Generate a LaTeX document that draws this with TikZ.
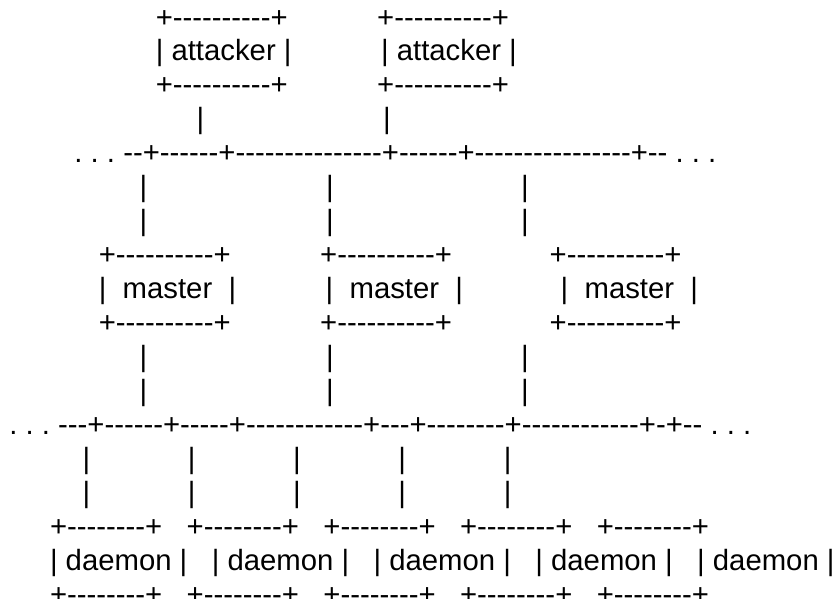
\documentclass[tikz,border=0pt]{standalone}
\usepackage{fontspec}
\newfontfamily\asc[Ligatures=TeXOff]{Liberation Sans}
\newcommand\sk[1]{\hskip#1\fontdimen2\font\relax}
\begin{document}
\begin{tikzpicture}[x=1pt,y=1pt,
  txt/.style={inner sep=0pt,outer sep=0pt,anchor=base west,
    font=\asc\fontsize{29.3}{34}\selectfont}]
\useasboundingbox (0,0) rectangle (835,-598);
\fill[white] (0,0) rectangle (835,-598);
\def\ox{9.3}
\def\bA{27}
\def\dl{33.95}
\node[txt] (l1)  at (\ox,{-(\bA+0*\dl)}) {\sk{18}+----------+\sk{11}+----------+};
\node[txt] (l2)  at (\ox,{-(\bA+1*\dl)}) {\sk{18}|\sk1attacker\sk1|\sk{11}|\sk1attacker\sk1|};
\node[txt] (l3)  at (\ox,{-(\bA+2*\dl)}) {\sk{18}+----------+\sk{11}+----------+};
\node[txt] (l4)  at (\ox,{-(\bA+3*\dl)}) {\sk{23}|\sk{22}|};
\node[txt] (l5)  at (\ox,{-(\bA+4*\dl)}) {\sk8.\sk1.\sk1.\sk1--+------+---------------+------+----------------+--\sk1.\sk1.\sk1.};
\node[txt] (l6)  at (\ox,{-(\bA+5*\dl)}) {\sk{16}|\sk{22}|\sk{23}|};
\node[txt] (l7)  at (\ox,{-(\bA+6*\dl)}) {\sk{16}|\sk{22}|\sk{23}|};
\node[txt] (l8)  at (\ox,{-(\bA+7*\dl)}) {\sk{11}+----------+\sk{11}+----------+\sk{12}+----------+};
\node[txt] (l9)  at (\ox,{-(\bA+8*\dl)}) {\sk{11}|\sk2master\sk2|\sk{11}|\sk2master\sk2|\sk{12}|\sk2master\sk2|};
\node[txt] (l10) at (\ox,{-(\bA+9*\dl)}) {\sk{11}+----------+\sk{11}+----------+\sk{12}+----------+};
\node[txt] (l11) at (\ox,{-(\bA+10*\dl)}) {\sk{16}|\sk{22}|\sk{23}|};
\node[txt] (l12) at (\ox,{-(\bA+11*\dl)}) {\sk{16}|\sk{22}|\sk{23}|};
\node[txt] (l13) at (\ox,{-(\bA+12*\dl)}) {.\sk1.\sk1.\sk1---+------+-----+------------+---+--------+------------+-+--\sk1.\sk1.\sk1.};
\node[txt] (l14) at (\ox,{-(\bA+13*\dl)}) {\sk9|\sk{12}|\sk{12}|\sk{12}|\sk{12}|};
\node[txt] (l15) at (\ox,{-(\bA+14*\dl)}) {\sk9|\sk{12}|\sk{12}|\sk{12}|\sk{12}|};
\node[txt] (l16) at (\ox,{-(\bA+15*\dl)}) {\sk5+--------+\sk3+--------+\sk3+--------+\sk3+--------+\sk3+--------+};
\node[txt] (l17) at (\ox,{-(\bA+16*\dl)}) {\sk5|\sk1daemon\sk1|\sk3|\sk1daemon\sk1|\sk3|\sk1daemon\sk1|\sk3|\sk1daemon\sk1|\sk3|\sk1daemon\sk1|};
\node[txt] (l18) at (\ox,{-(\bA+17*\dl)}) {\sk5+--------+\sk3+--------+\sk3+--------+\sk3+--------+\sk3+--------+};
\end{tikzpicture}
\end{document}
